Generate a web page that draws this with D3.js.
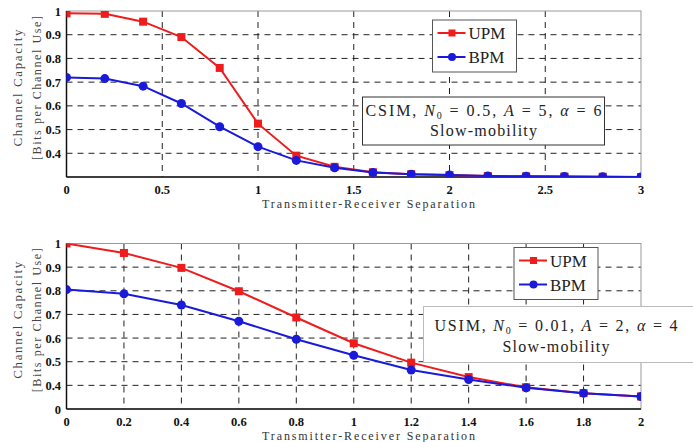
<!DOCTYPE html>
<html>
<head>
<meta charset="utf-8">
<script src="https://cdn.jsdelivr.net/npm/d3@7"></script>
<style>
  body { margin: 0; background: #fff; }
  svg { display: block; font-family: "Liberation Serif", "DejaVu Serif", serif; }
</style>
</head>
<body>
<svg id="chart" width="693" height="442"></svg>
<script>
// ---- data ----
const xTop = [0, 0.2, 0.4, 0.6, 0.8, 1.0, 1.2, 1.4, 1.6, 1.8, 2.0, 2.2, 2.4, 2.6, 2.8, 3.0];
const upmTop = [0.99, 0.988, 0.955, 0.89, 0.76, 0.525, 0.39, 0.343, 0.32, 0.312, 0.308, 0.304, 0.303, 0.302, 0.301, 0.300];
const bpmTop = [0.72, 0.715, 0.683, 0.61, 0.512, 0.428, 0.37, 0.339, 0.319, 0.312, 0.308, 0.304, 0.303, 0.302, 0.301, 0.300];

const xBottom = [0, 0.2, 0.4, 0.6, 0.8, 1.0, 1.2, 1.4, 1.6, 1.8, 2.0];
const upmBottom = [1.0, 0.96, 0.897, 0.798, 0.687, 0.578, 0.496, 0.435, 0.392, 0.367, 0.353];
const bpmBottom = [0.805, 0.787, 0.74, 0.671, 0.595, 0.527, 0.465, 0.425, 0.39, 0.367, 0.353];

const xTicksTop = [0, 0.5, 1, 1.5, 2, 2.5, 3];
const xTickLabelsTop = ["0", "0.5", "1", "1.5", "2", "2.5", "3"];
const yTicksTop = [0.4, 0.5, 0.6, 0.7, 0.8, 0.9, 1];
const yTickLabelsTop = ["0.4", "0.5", "0.6", "0.7", "0.8", "0.9", "1"];

const xTicksBottom = [0, 0.2, 0.4, 0.6, 0.8, 1, 1.2, 1.4, 1.6, 1.8, 2];
const xTickLabelsBottom = ["0", "0.2", "0.4", "0.6", "0.8", "1", "1.2", "1.4", "1.6", "1.8", "2"];
const yTicksBottom = [0.3, 0.4, 0.5, 0.6, 0.7, 0.8, 0.9, 1];
const yTickLabelsBottom = ["0", "0.4", "0.5", "0.6", "0.7", "0.8", "0.9", "1"];

const seriesNames = ["UPM", "BPM"];
const RED = "#ee1c1c", BLUE = "#1a1adb";

const svg = d3.select("#chart");

function panel(opt) {
  const x = d3.scaleLinear().domain(opt.xDomain).range([66.5, 641]);
  const y = d3.scaleLinear().domain([0.3, 1]).range([opt.bottom, opt.top]);
  const g = svg.append("g");
  const clipId = "clip" + opt.id;
  svg.append("clipPath").attr("id", clipId)
    .append("rect").attr("x", 66.5).attr("y", opt.top).attr("width", 641 - 66.5).attr("height", opt.bottom - opt.top);

  // grid
  g.append("g").selectAll("line").data(opt.yTicks.filter(v => v > 0.31 && v < 0.99)).join("line")
    .attr("x1", 66.5).attr("x2", 641).attr("y1", d => y(d)).attr("y2", d => y(d))
    .attr("stroke", "#222").attr("stroke-width", 1).attr("stroke-dasharray", "6,5");
  g.append("g").selectAll("line").data(opt.xTicks.filter(v => v > opt.xDomain[0] && v < opt.xDomain[1])).join("line")
    .attr("x1", d => x(d)).attr("x2", d => x(d)).attr("y1", opt.top).attr("y2", opt.bottom)
    .attr("stroke", "#222").attr("stroke-width", 1).attr("stroke-dasharray", "6,5");

  // frame
  g.append("rect").attr("x", 66.5).attr("y", opt.top).attr("width", 641 - 66.5).attr("height", opt.bottom - opt.top)
    .attr("fill", "none").attr("stroke", "#999").attr("stroke-width", 1);
  g.append("line").attr("x1", 66.5).attr("x2", 66.5).attr("y1", opt.top).attr("y2", opt.bottom)
    .attr("stroke", "#111").attr("stroke-width", 1.5);
  g.append("line").attr("x1", 66.5).attr("x2", 641).attr("y1", opt.bottom).attr("y2", opt.bottom)
    .attr("stroke", "#111").attr("stroke-width", 1.5);

  // tick labels
  g.append("g").selectAll("text").data(opt.xTicks).join("text")
    .attr("x", d => x(d)).attr("y", opt.bottom + 17)
    .attr("text-anchor", "middle").attr("font-weight", "bold").attr("font-size", 12.5).attr("fill", "#111")
    .text((d, i) => opt.xTickLabels[i]);
  g.append("g").selectAll("text").data(opt.yTicks).join("text")
    .attr("x", 61).attr("y", d => y(d) + 4.5)
    .attr("text-anchor", "end").attr("font-weight", "bold").attr("font-size", 12.5).attr("fill", "#111")
    .text((d, i) => opt.yTickLabels[i]);

  // axis labels
  g.append("text").attr("x", 368.5).attr("y", opt.bottom + 30.5)
    .attr("text-anchor", "middle").attr("font-size", 12).attr("fill", "#333")
    .attr("textLength", 213).attr("lengthAdjust", "spacing")
    .text("Transmitter-Receiver Separation");
  const cy = (opt.top + opt.bottom) / 2 - 6;
  g.append("text").attr("transform", `translate(22,${cy}) rotate(-90)`)
    .attr("text-anchor", "middle").attr("font-size", 13).attr("fill", "#444")
    .attr("textLength", 117).attr("lengthAdjust", "spacing")
    .text("Channel Capacity");
  g.append("text").attr("transform", `translate(41,${cy}) rotate(-90)`)
    .attr("text-anchor", "middle").attr("font-size", 12).attr("fill", "#444")
    .attr("textLength", 144).attr("lengthAdjust", "spacing")
    .text("[Bits per Channel Use]");

  // series
  const line = d3.line().x(d => x(d[0])).y(d => y(d[1]));
  const red = opt.xs.map((v, i) => [v, opt.upm[i]]);
  const blue = opt.xs.map((v, i) => [v, opt.bpm[i]]);
  const plot = g.append("g").attr("clip-path", `url(#${clipId})`);
  plot.append("path").datum(red).attr("d", line).attr("fill", "none").attr("stroke", RED).attr("stroke-width", 2);
  plot.append("path").datum(blue).attr("d", line).attr("fill", "none").attr("stroke", BLUE).attr("stroke-width", 2);
  plot.append("g").selectAll("rect").data(red).join("rect")
    .attr("x", d => x(d[0]) - 4).attr("y", d => y(d[1]) - 4).attr("width", 8).attr("height", 8).attr("fill", RED);
  plot.append("g").selectAll("circle").data(blue).join("circle")
    .attr("cx", d => x(d[0])).attr("cy", d => y(d[1])).attr("r", 4.5).attr("fill", BLUE);

  // legend
  const L = opt.legend;
  const lg = g.append("g");
  lg.append("rect").attr("x", L.x).attr("y", L.y).attr("width", L.w).attr("height", L.h)
    .attr("fill", "#fff").attr("stroke", "#555").attr("stroke-width", 1);
  seriesNames.forEach((name, i) => {
    const ly = L.y + 13 + i * 24;
    const col = i === 0 ? RED : BLUE;
    lg.append("line").attr("x1", L.x + 5).attr("x2", L.x + 33).attr("y1", ly).attr("y2", ly)
      .attr("stroke", col).attr("stroke-width", 2);
    if (i === 0) lg.append("rect").attr("x", L.x + 16).attr("y", ly - 3.5).attr("width", 7).attr("height", 7).attr("fill", col);
    else lg.append("circle").attr("cx", L.x + 19.5).attr("cy", ly).attr("r", 4).attr("fill", col);
    lg.append("text").attr("x", L.x + 36).attr("y", ly + 6).attr("font-size", 17).attr("fill", "#222").text(name);
  });

  // annotation box
  const A = opt.note;
  const ng = g.append("g");
  ng.append("rect").attr("x", A.x).attr("y", A.y).attr("width", A.w).attr("height", A.h)
    .attr("fill", "#fff").attr("stroke", A.stroke).attr("stroke-width", 1);
  const t = ng.append("text").attr("x", A.cx).attr("y", A.y + A.l1).attr("text-anchor", "middle")
    .attr("font-size", 16).attr("fill", "#222")
    .attr("textLength", A.tw).attr("lengthAdjust", "spacing");
  t.append("tspan").text(A.name + ", ");
  t.append("tspan").attr("font-style", "italic").text("N");
  t.append("tspan").attr("font-size", 10).attr("dy", 3).text("0");
  t.append("tspan").attr("dy", -3).text(" = " + A.n0 + ", ");
  t.append("tspan").attr("font-style", "italic").text("A");
  t.append("tspan").text(" = " + A.a + ", ");
  t.append("tspan").attr("font-style", "italic").text("α");
  t.append("tspan").text(" = " + A.alpha);
  ng.append("text").attr("x", A.cx).attr("y", A.y + A.l2).attr("text-anchor", "middle")
    .attr("font-size", 16).attr("fill", "#222")
    .attr("textLength", 107).attr("lengthAdjust", "spacing")
    .text("Slow-mobility");
}

panel({
  id: "top", top: 11, bottom: 177, xDomain: [0, 3],
  xs: xTop, upm: upmTop, bpm: bpmTop,
  xTicks: xTicksTop, xTickLabels: xTickLabelsTop, yTicks: yTicksTop, yTickLabels: yTickLabelsTop,
  legend: { x: 432.5, y: 20, w: 84, h: 52 },
  note: { x: 362.5, y: 97, w: 242, h: 48, cx: 483.5, tw: 236, l1: 19, l2: 39, stroke: "#333",
          name: "CSIM", n0: "0.5", a: "5", alpha: "6" }
});
panel({
  id: "bottom", top: 243.5, bottom: 409, xDomain: [0, 2],
  xs: xBottom, upm: upmBottom, bpm: bpmBottom,
  xTicks: xTicksBottom, xTickLabels: xTickLabelsBottom, yTicks: yTicksBottom, yTickLabels: yTickLabelsBottom,
  legend: { x: 514, y: 247.5, w: 84, h: 52 },
  note: { x: 423.5, y: 306.5, w: 280, h: 56, cx: 556, tw: 243, l1: 24, l2: 45, stroke: "#bbb",
          name: "USIM", n0: "0.01", a: "2", alpha: "4" }
});
</script>
</body>
</html>
